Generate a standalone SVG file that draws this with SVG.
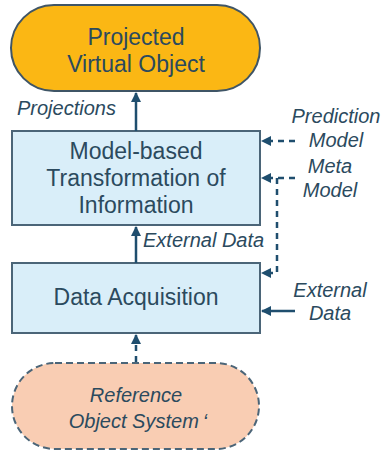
<svg xmlns="http://www.w3.org/2000/svg" width="383" height="452" viewBox="0 0 383 452">
  <style>
    .node-text { font-family: "Liberation Sans", Arial, sans-serif; font-size: 23px; fill: #2b4a5e; text-anchor: middle; }
    .label { font-family: "Liberation Sans", Arial, sans-serif; font-size: 20px; font-style: italic; fill: #2b4a5e; }
    .box { fill: #d9eef9; stroke: #4b6578; stroke-width: 2; }
    .link { stroke: #1f4e6e; stroke-width: 2.5; fill: none; }
    .dashed { stroke-dasharray: 6 5; }
  </style>
  <defs>
    <marker id="arrow" viewBox="0 0 10 10" refX="9" refY="5" markerWidth="4" markerHeight="4" orient="auto">
      <path d="M0,0 L10,5 L0,10 z" fill="#1f4e6e"/>
    </marker>
  </defs>
  <rect width="383" height="452" fill="#ffffff"/>

  <!-- nodes -->
  <g id="projected-virtual-object">
    <rect x="11" y="5" width="249" height="86" rx="43" ry="43" fill="#fbb714" stroke="#3f5566" stroke-width="2"/>
    <text class="node-text" x="136" y="45">Projected</text>
    <text class="node-text" x="136" y="72">Virtual Object</text>
  </g>

  <g id="model-transformation">
    <rect class="box" x="12" y="131" width="248" height="94"/>
    <text class="node-text" x="136" y="159">Model-based</text>
    <text class="node-text" x="136" y="186">Transformation of</text>
    <text class="node-text" x="136" y="213">Information</text>
  </g>

  <g id="data-acquisition">
    <rect class="box" x="12" y="263" width="248" height="70"/>
    <text class="node-text" x="136" y="305">Data Acquisition</text>
  </g>

  <g id="reference-object-system">
    <rect x="12" y="363" width="247" height="86" rx="43" ry="43" fill="#f9cdb3" stroke="#4b6578" stroke-width="2" stroke-dasharray="7 4"/>
    <text class="label" x="136" y="402" text-anchor="middle" font-size="23">Reference</text>
    <text class="label" x="138" y="428" text-anchor="middle" font-size="23">Object System<tspan dx="4">‘</tspan></text>
  </g>

  <!-- connectors -->
  <g id="connectors">
    <line class="link" x1="136" y1="131" x2="136" y2="93" marker-end="url(#arrow)"/>
    <line class="link" x1="136" y1="263" x2="136" y2="227" marker-end="url(#arrow)"/>
    <line class="link dashed" x1="136" y1="362" x2="136" y2="335" marker-end="url(#arrow)"/>
    <line class="link dashed" x1="295" y1="141" x2="262" y2="141" marker-end="url(#arrow)"/>
    <line class="link dashed" x1="295" y1="178" x2="262" y2="178" marker-end="url(#arrow)"/>
    <polyline class="link dashed" points="277,178 277,273 262,273" marker-end="url(#arrow)"/>
    <line class="link" x1="295" y1="311" x2="262" y2="311" marker-end="url(#arrow)"/>
  </g>

  <!-- connector labels -->
  <g id="labels">
    <text class="label" x="17" y="115">Projections</text>
    <text class="label" x="336" y="123" text-anchor="middle">Prediction</text>
    <text class="label" x="336" y="147" text-anchor="middle">Model</text>
    <text class="label" x="330" y="173" text-anchor="middle">Meta</text>
    <text class="label" x="330" y="197" text-anchor="middle">Model</text>
    <text class="label" x="143" y="247">External Data</text>
    <text class="label" x="330" y="297" text-anchor="middle">External</text>
    <text class="label" x="330" y="320" text-anchor="middle">Data</text>
  </g>
</svg>
